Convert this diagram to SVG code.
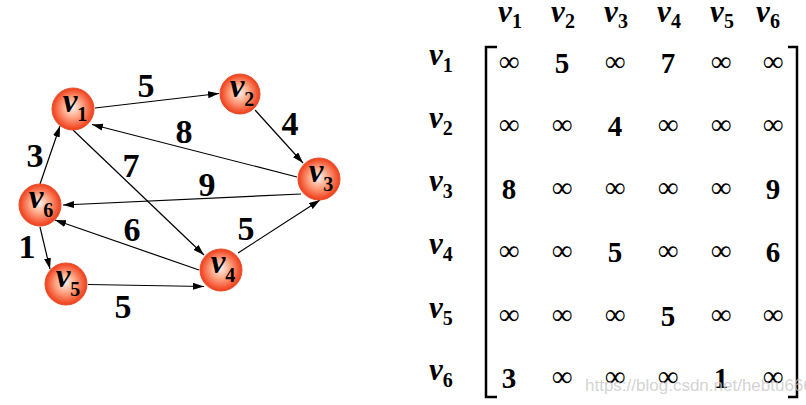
<svg xmlns="http://www.w3.org/2000/svg" width="806" height="405" viewBox="0 0 806 405">
<style>
.edge{stroke:#000;stroke-width:1.2;fill:none;marker-end:url(#ah)}
.node circle{fill:url(#ng);stroke:#e8502c;stroke-width:1}
.nl{font-family:"Liberation Serif",serif;font-weight:bold;fill:#000}
.nv{font-style:italic;font-size:33px}
.ns{font-size:20px}
.el{font-family:"Liberation Serif",serif;font-weight:bold;font-size:34px;text-anchor:middle;fill:#000}
.mv{font-family:"Liberation Serif",serif;font-weight:bold;fill:#000}
.mvv{font-style:italic;font-size:31px}
.mvs{font-size:20px}
.inf{font-family:"Liberation Serif",serif;font-size:29px;text-anchor:middle;fill:#000}
.num{font-family:"Liberation Serif",serif;font-weight:bold;font-size:29px;text-anchor:middle;fill:#000}
.br{stroke:#000;stroke-width:2.5;fill:none}
</style>
<defs>
<radialGradient id="ng" cx="50%" cy="50%" r="50%" fx="48%" fy="45%">
<stop offset="0" stop-color="#fff4ee"/>
<stop offset="0.45" stop-color="#ffa888"/>
<stop offset="1" stop-color="#f03c18"/>
</radialGradient>
<marker id="ah" markerUnits="userSpaceOnUse" markerWidth="12" markerHeight="8" refX="11" refY="3.5" orient="auto">
<path d="M0,0 L11,3.5 L0,7 z" fill="#000"/>
</marker>
</defs>
<rect width="806" height="405" fill="#fff"/>
<g id="connectors">
<line class="edge" x1="95" y1="108" x2="219" y2="93.5"/>
<line class="edge" x1="255" y1="110" x2="303" y2="163"/>
<line class="edge" x1="297" y1="177" x2="92" y2="124.5"/>
<line class="edge" x1="73" y1="130" x2="204" y2="255"/>
<line class="edge" x1="301" y1="194" x2="63" y2="205"/>
<line class="edge" x1="238" y1="253" x2="320" y2="200"/>
<line class="edge" x1="199" y1="270" x2="55" y2="220"/>
<line class="edge" x1="40" y1="184" x2="60" y2="126"/>
<line class="edge" x1="40" y1="227" x2="50" y2="269"/>
<line class="edge" x1="88" y1="284.5" x2="204" y2="286.5"/>
</g>
<g id="edge-labels">
<text class="el" x="146" y="97">5</text>
<text class="el" x="290" y="135">4</text>
<text class="el" x="184" y="143">8</text>
<text class="el" x="131" y="177">7</text>
<text class="el" x="207" y="196">9</text>
<text class="el" x="35" y="167">3</text>
<text class="el" x="132" y="241">6</text>
<text class="el" x="246" y="240">5</text>
<text class="el" x="27" y="258">1</text>
<text class="el" x="123" y="318">5</text>
</g>
<g id="v1" class="node"><circle cx="73" cy="109" r="21"/><text class="nl" x="75" y="112" text-anchor="middle"><tspan class="nv">v</tspan><tspan class="ns" dy="9">1</tspan></text></g>
<g id="v2" class="node"><circle cx="240" cy="94" r="20"/><text class="nl" x="242" y="97" text-anchor="middle"><tspan class="nv">v</tspan><tspan class="ns" dy="9">2</tspan></text></g>
<g id="v3" class="node"><circle cx="319" cy="179" r="21"/><text class="nl" x="321" y="182" text-anchor="middle"><tspan class="nv">v</tspan><tspan class="ns" dy="9">3</tspan></text></g>
<g id="v4" class="node"><circle cx="221" cy="270" r="21"/><text class="nl" x="223" y="273" text-anchor="middle"><tspan class="nv">v</tspan><tspan class="ns" dy="9">4</tspan></text></g>
<g id="v5" class="node"><circle cx="66" cy="284" r="21"/><text class="nl" x="68" y="287" text-anchor="middle"><tspan class="nv">v</tspan><tspan class="ns" dy="9">5</tspan></text></g>
<g id="v6" class="node"><circle cx="40" cy="205" r="21"/><text class="nl" x="41" y="208" text-anchor="middle"><tspan class="nv">v</tspan><tspan class="ns" dy="9">6</tspan></text></g>
<g id="matrix">
<g id="col-headers">
<text class="mv" x="510" y="22" text-anchor="middle"><tspan class="mvv">v</tspan><tspan class="mvs" dy="6">1</tspan></text>
<text class="mv" x="563" y="22" text-anchor="middle"><tspan class="mvv">v</tspan><tspan class="mvs" dy="6">2</tspan></text>
<text class="mv" x="616" y="22" text-anchor="middle"><tspan class="mvv">v</tspan><tspan class="mvs" dy="6">3</tspan></text>
<text class="mv" x="669" y="22" text-anchor="middle"><tspan class="mvv">v</tspan><tspan class="mvs" dy="6">4</tspan></text>
<text class="mv" x="722" y="22" text-anchor="middle"><tspan class="mvv">v</tspan><tspan class="mvs" dy="6">5</tspan></text>
<text class="mv" x="768" y="22" text-anchor="middle"><tspan class="mvv">v</tspan><tspan class="mvs" dy="6">6</tspan></text>
</g>
<g id="row-headers">
<text class="mv" x="429" y="65"><tspan class="mvv">v</tspan><tspan class="mvs" dy="7">1</tspan></text>
<text class="mv" x="429" y="128"><tspan class="mvv">v</tspan><tspan class="mvs" dy="7">2</tspan></text>
<text class="mv" x="429" y="191"><tspan class="mvv">v</tspan><tspan class="mvs" dy="7">3</tspan></text>
<text class="mv" x="429" y="254"><tspan class="mvv">v</tspan><tspan class="mvs" dy="7">4</tspan></text>
<text class="mv" x="429" y="318"><tspan class="mvv">v</tspan><tspan class="mvs" dy="7">5</tspan></text>
<text class="mv" x="429" y="380"><tspan class="mvv">v</tspan><tspan class="mvs" dy="7">6</tspan></text>
</g>
<path class="br" d="M497,47 H486 V397 H497"/>
<path class="br" d="M788,47 H797 V397 H788"/>
<g id="entries">
<text class="inf" x="509" y="71">∞</text><text class="num" x="562" y="73">5</text><text class="inf" x="615" y="71">∞</text><text class="num" x="668" y="73">7</text><text class="inf" x="721" y="71">∞</text><text class="inf" x="773" y="71">∞</text>
<text class="inf" x="509" y="134">∞</text><text class="inf" x="562" y="134">∞</text><text class="num" x="615" y="136">4</text><text class="inf" x="668" y="134">∞</text><text class="inf" x="721" y="134">∞</text><text class="inf" x="773" y="134">∞</text>
<text class="num" x="509" y="199">8</text><text class="inf" x="562" y="197">∞</text><text class="inf" x="615" y="197">∞</text><text class="inf" x="668" y="197">∞</text><text class="inf" x="721" y="197">∞</text><text class="num" x="773" y="199">9</text>
<text class="inf" x="509" y="260">∞</text><text class="inf" x="562" y="260">∞</text><text class="num" x="615" y="262">5</text><text class="inf" x="668" y="260">∞</text><text class="inf" x="721" y="260">∞</text><text class="num" x="773" y="262">6</text>
<text class="inf" x="509" y="324">∞</text><text class="inf" x="562" y="324">∞</text><text class="inf" x="615" y="324">∞</text><text class="num" x="668" y="326">5</text><text class="inf" x="721" y="324">∞</text><text class="inf" x="773" y="324">∞</text>
<text class="num" x="509" y="388">3</text><text class="inf" x="562" y="386">∞</text><text class="inf" x="615" y="386">∞</text><text class="inf" x="668" y="386">∞</text><text class="num" x="721" y="388">1</text><text class="inf" x="773" y="386">∞</text>
</g>
</g>
<text x="585" y="391" font-family="Liberation Sans, sans-serif" font-size="17" fill="#c8c8c8" fill-opacity="0.8">https://blog.csdn.net/hebtu666</text>
</svg>
